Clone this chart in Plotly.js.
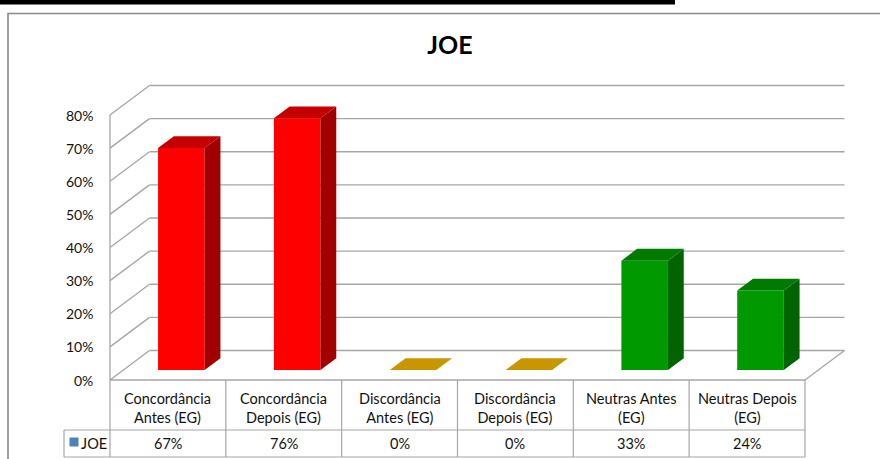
<!DOCTYPE html>
<html>
<head>
<meta charset="utf-8">
<script src="https://cdn.plot.ly/plotly-3.0.1.min.js"></script>
<style>html,body{margin:0;padding:0;background:#fff;}#chart{width:880px;height:459px;}</style>
</head>
<body>
<div id="chart"></div>
<script>
// ---- data ----
const chartTitle = 'JOE';
const seriesName = 'JOE';
const categories = ['Concordância<br>Antes (EG)', 'Concordância<br>Depois (EG)', 'Discordância<br>Antes (EG)', 'Discordância<br>Depois (EG)', 'Neutras Antes<br>(EG)', 'Neutras Depois<br>(EG)'];
const values = [67, 76, 0, 0, 33, 24];
const tickVals = [0, 10, 20, 30, 40, 50, 60, 70, 80];

// ---- styles ----
const frontColors = ['#FF0000', '#FF0000', '#CC9900', '#CC9900', '#009900', '#009900'];
const topColors   = ['#C40000', '#C40000', '#C89600', '#C89600', '#007A00', '#007A00'];
const sideColors  = ['#A00000', '#A00000', '#A07800', '#A07800', '#006400', '#006400'];
const gridColor = '#A6A6A6';
const FONT = 'Lato, "Open Sans", sans-serif';
const TXT = '#111';

// ---- geometry (pixel mapping of front plane) ----
const PX_X0 = 110, PX_CAT = 115.83;     // front plane left edge, px per category
const PX_Y0 = 380, PX_PCT = 3.3125;      // front floor y, px per percent
const W = 880, H = 459;
const DX = 39.5 / PX_CAT, DY = 29.5 / PX_PCT;   // depth offsets in data units
const D0 = 0.34, DD = 0.40, BW = 0.402;          // bar depth start, bar depth, bar width
const ux = px => -0.5 + (px - PX_X0) / PX_CAT;
const vy = py => (PX_Y0 - py) / PX_PCT;

const n = categories.length;
const traces = [];
const line = (x, y, w) => ({type: 'scatter', mode: 'lines', x, y, line: {color: gridColor, width: w || 1.3}, hoverinfo: 'skip', showlegend: false});
const poly = (x, y, c) => ({type: 'scatter', mode: 'lines', fill: 'toself', fillcolor: c, x, y,
  line: {width: 0, color: c}, hoverinfo: 'skip', showlegend: false});

// back wall gridlines + left wall diagonals
tickVals.forEach(t => {
  traces.push(line([-0.5 + DX, n - 0.5 + DX], [t + DY, t + DY]));
  traces.push(line([-0.5, -0.5 + DX], [t, t + DY]));
});
// left wall front edge
traces.push(line([-0.5, -0.5], [0, tickVals[tickVals.length - 1]]));
// floor right edge
traces.push(line([n - 0.5, n - 0.5 + DX], [0, DY]));

// 3D bars: front, side and top faces
values.forEach((v, i) => {
  const xc = i + D0 * DX;
  const xl = xc - BW / 2, xr = xc + BW / 2;
  const y0 = D0 * DY, y1 = v + y0;
  const ddx = DD * DX, ddy = DD * DY;
  if (v > 0) {
    traces.push(poly([xl, xr, xr, xl, xl], [y0, y0, y1, y1, y0], frontColors[i]));
    traces.push(poly([xr, xr + ddx, xr + ddx, xr, xr], [y0, y0 + ddy, y1 + ddy, y1, y0], sideColors[i]));
  }
  traces.push(poly([xl, xr, xr + ddx, xl + ddx, xl], [y1, y1, y1 + ddy, y1 + ddy, y1], topColors[i]));
});

// data table lines
const yHeadTop = 0, yHeadBot = vy(430), yDataBot = vy(457);
const xFirst = ux(64);
for (let k = 0; k <= n; k++) traces.push(line([-0.5 + k, -0.5 + k], [yHeadTop, yDataBot], 1.2));
traces.push(line([-0.5, n - 0.5], [yHeadTop, yHeadTop], 1.3));
traces.push(line([xFirst, n - 0.5], [yHeadBot, yHeadBot], 1.2));
traces.push(line([xFirst, n - 0.5], [yDataBot, yDataBot], 1.2));
traces.push(line([xFirst, xFirst], [yHeadBot, yDataBot], 1.2));
// legend key
traces.push({type: 'scatter', mode: 'markers', x: [ux(74)], y: [vy(442)],
  marker: {symbol: 'square', size: 9, color: '#4F81BD'}, hoverinfo: 'skip', showlegend: false});

const annotations = [];
tickVals.forEach(t => annotations.push({x: -0.5, y: t, xref: 'x', yref: 'y', text: t + '%', showarrow: false,
  xanchor: 'right', yanchor: 'middle', xshift: -15, font: {family: FONT, size: 14, color: TXT}}));
categories.forEach((c, i) => {
  annotations.push({x: i, y: (yHeadTop + yHeadBot) / 2, xref: 'x', yref: 'y', text: c, showarrow: false,
    xanchor: 'center', yanchor: 'middle', yshift: -3, font: {family: FONT, size: 14.5, color: TXT}});
  annotations.push({x: i, y: (yHeadBot + yDataBot) / 2, xref: 'x', yref: 'y', text: values[i] + '%', showarrow: false,
    xanchor: 'center', yanchor: 'middle', font: {family: FONT, size: 14.5, color: TXT}});
});
annotations.push({x: ux(79), y: (yHeadBot + yDataBot) / 2, xref: 'x', yref: 'y', text: seriesName, showarrow: false,
  xanchor: 'left', yanchor: 'middle', font: {family: FONT, size: 14.5, color: TXT}});

const layout = {
  width: W, height: H, margin: {l: 0, r: 0, t: 0, b: 0, pad: 0},
  paper_bgcolor: '#fff', plot_bgcolor: 'rgba(0,0,0,0)',
  title: {text: '<b>' + chartTitle + '</b>', font: {family: FONT, size: 25, color: '#000'},
    x: 450 / W, xanchor: 'center', xref: 'paper', y: 1 - 45 / H, yanchor: 'middle', yref: 'container'},
  xaxis: {visible: false, range: [ux(0), ux(W)], fixedrange: true},
  yaxis: {visible: false, range: [vy(H), vy(0)], fixedrange: true},
  showlegend: false,
  annotations,
  shapes: [
    {type: 'rect', xref: 'paper', yref: 'paper', x0: 0, x1: 675 / W, y0: 1, y1: 1 - 4.5 / H, fillcolor: '#000', line: {width: 0}},
    {type: 'rect', xref: 'paper', yref: 'paper', x0: 8 / W, x1: 1.01, y0: 1 - 13.5 / H, y1: -0.02, fillcolor: 'rgba(0,0,0,0)', line: {color: '#888', width: 1.6}}
  ]
};
Plotly.newPlot('chart', traces, layout, {staticPlot: true, displayModeBar: false});
</script>
</body>
</html>
